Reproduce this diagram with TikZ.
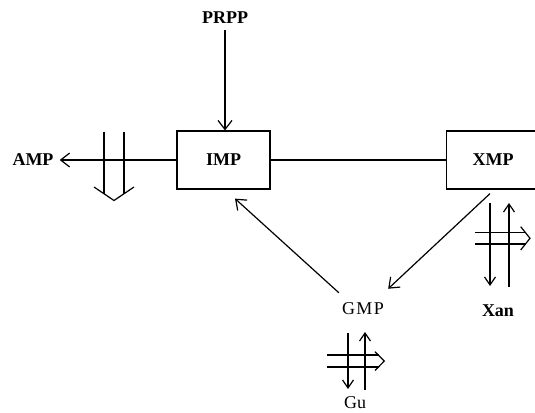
\documentclass[tikz,border=0pt]{standalone}
\usepackage{fontspec}
\setmainfont{Liberation Serif}
\usetikzlibrary{positioning,arrows.meta}

\tikzset{
  box/.style={draw, line width=1.2pt, minimum width=93pt, minimum height=58pt, font=\bfseries\fontsize{18}{18}\selectfont},
  lbl/.style={inner sep=6pt, font=\bfseries\fontsize{18}{18}\selectfont},
  plain/.style={inner sep=6pt, font=\fontsize{18}{18}\selectfont},
  flow/.style={-{Straight Barb[length=9pt,width=14pt]}, line width=1.2pt},
  small/.style={-{Straight Barb[length=8pt,width=11pt]}, line width=1.2pt},
  bar/.style={line width=1.2pt},
}

\begin{document}
\begin{tikzpicture}[node distance=100pt, x=1pt, y=1pt]
    \useasboundingbox (0,0) rectangle (535,-412);
    \node[box] (imp) at (223.5,-160) {IMP};
    \node[lbl, above of=imp, xshift=1.5pt, yshift=42pt] (prpp) {PRPP};
    \node[box, right of=imp, xshift=169.5pt] (xmp) {XMP};
    \node[lbl, left of=imp, xshift=-90.5pt] (amp) {AMP};
    \node[plain, below of=imp, xshift=139.5pt, yshift=-49pt] (gmp) {\addfontfeature{LetterSpace=8}GMP};
    \node[lbl, below of=xmp, xshift=5pt, yshift=-50.7pt] (xan) {Xan};
    \node[plain, below of=gmp, xshift=-8pt, yshift=6pt] (gu) {Gu};
    \draw[flow] (prpp) -- (prpp |- imp.north);
    \draw[flow] (imp) -- (amp);
    \draw[bar] (imp) -- (xmp);
    \draw[flow] ([xshift=-3pt,yshift=-4pt]xmp.south) -- ([xshift=-2pt,yshift=8pt]gmp.north east);
    \draw[flow] ([xshift=3pt,yshift=4pt]gmp.north west) -- ([xshift=11.5pt,yshift=-9pt]imp.south);
    % AMP: hollow arrow down
    \draw[bar] (104,-131.7) -- (104,-193.7);
    \draw[bar] (124,-131.7) -- (124,-193.7);
    \draw[bar] (94,-187) -- (114,-200.5) -- (134,-187);
    % XMP / Xan exchange
    \draw[small] (490,-203) -- (490,-286);
    \draw[small] (509,-287) -- (509,-203);
    \draw[bar] (475,-232.7) -- (525.5,-232.7);
    \draw[bar] (475,-244) -- (525.5,-244);
    \draw[bar] (520.7,-226.7) -- (530,-238.3) -- (520.7,-250);
    % GMP / Gu exchange
    \draw[small] (348,-333) -- (348,-389);
    \draw[small] (365,-390) -- (365,-332);
    \draw[bar] (327,-355) -- (378.5,-355);
    \draw[bar] (327,-367) -- (378.5,-367);
    \draw[bar] (375,-351.7) -- (384.3,-361) -- (375,-370.5);
\end{tikzpicture}
\end{document}
